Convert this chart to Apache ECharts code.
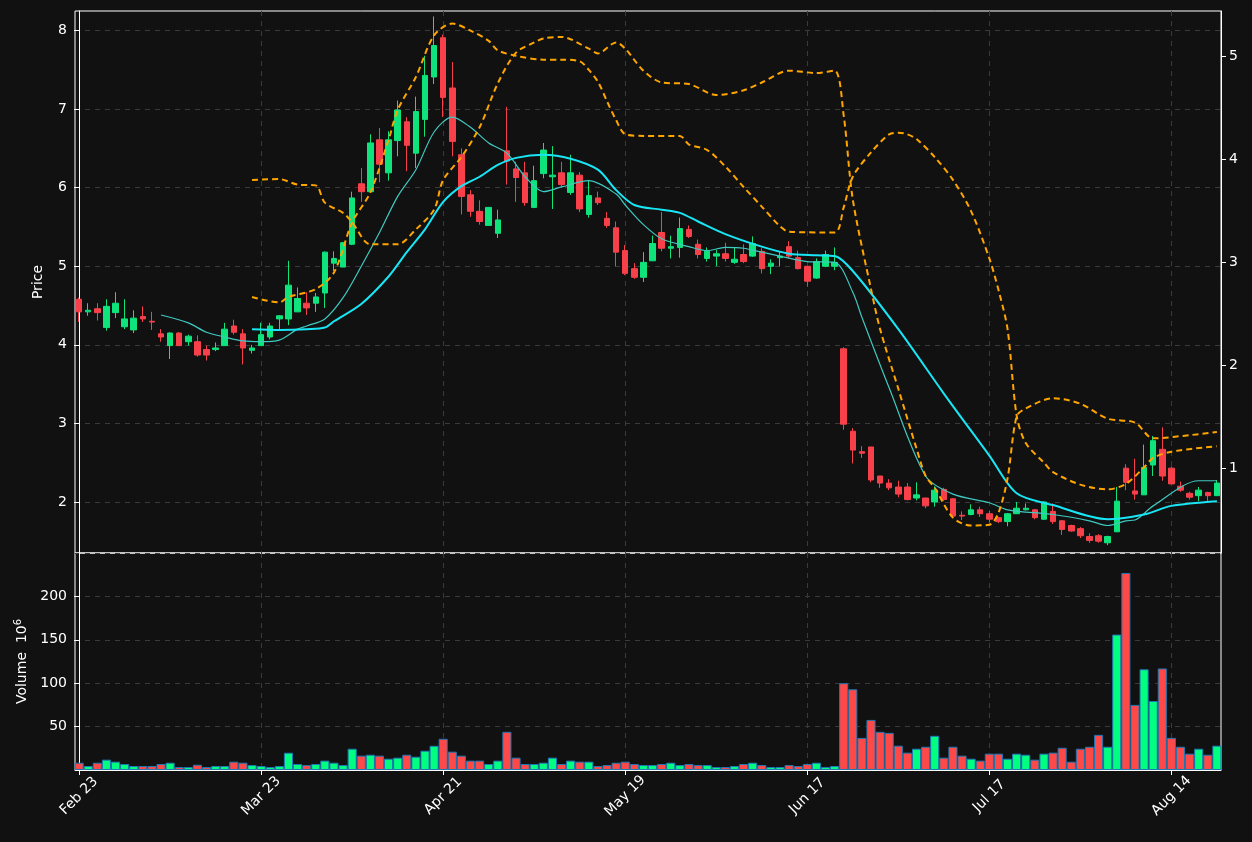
<!DOCTYPE html>
<html><head><meta charset="utf-8">
<script src="https://cdn.jsdelivr.net/npm/echarts@6/dist/echarts.min.js"></script>
<style>html,body{margin:0;background:#111111;}#c{width:1252px;height:842px;}</style>
</head><body><div id="c"></div>
<script>
const tickLabels = ['Feb 23','Mar 23','Apr 21','May 19','Jun 17','Jul 17','Aug 14'];
const tickStep = 20;
const openP = [4.58,4.42,4.46,4.22,4.41,4.23,4.19,4.36,4.30,4.14,3.99,4.15,4.04,4.04,3.94,3.94,3.99,4.24,4.14,3.93,3.99,4.10,4.33,4.33,4.42,4.53,4.53,4.66,5.04,4.99,5.28,6.05,5.95,6.61,6.19,6.60,6.84,6.44,6.87,7.41,7.91,7.27,6.42,5.91,5.70,5.52,5.42,6.47,6.24,6.19,5.75,6.18,6.14,6.19,5.94,6.16,5.66,5.87,5.61,5.49,5.20,4.97,4.86,5.07,5.43,5.23,5.24,5.47,5.28,5.10,5.13,5.16,5.05,5.15,5.13,5.19,5.00,5.11,5.25,5.11,5.00,4.85,5.00,5.00,3.95,2.90,2.64,2.70,2.33,2.24,2.19,2.19,2.05,2.05,2.00,2.16,2.04,1.83,1.84,1.90,1.85,1.80,1.75,1.85,1.90,1.90,1.78,1.88,1.76,1.70,1.66,1.56,1.57,1.48,1.62,2.43,2.14,2.09,2.47,2.67,2.43,2.20,2.11,2.08,2.12,2.08];
const closeP = [4.42,4.44,4.41,4.49,4.53,4.33,4.34,4.33,4.29,4.10,4.15,3.99,4.11,3.87,3.87,3.96,4.20,4.16,3.96,3.96,4.13,4.24,4.37,4.76,4.59,4.47,4.61,5.18,5.10,5.30,5.87,5.95,6.57,6.30,6.61,6.99,6.54,6.97,7.43,7.81,7.15,6.59,5.89,5.70,5.57,5.75,5.59,6.34,6.13,5.81,6.09,6.48,6.16,6.04,6.19,5.73,5.90,5.81,5.52,5.18,4.91,4.86,5.05,5.29,5.23,5.25,5.48,5.38,5.15,5.19,5.16,5.10,5.09,5.06,5.29,4.97,5.04,5.13,5.13,4.97,4.81,5.06,5.15,5.05,2.99,2.66,2.62,2.28,2.24,2.18,2.10,2.03,2.09,1.95,2.15,2.03,1.82,1.82,1.90,1.85,1.78,1.75,1.85,1.92,1.92,1.80,2.00,1.75,1.65,1.63,1.57,1.51,1.50,1.56,2.01,2.25,2.10,2.44,2.78,2.33,2.23,2.15,2.06,2.15,2.08,2.24];
const lowP = [4.29,4.37,4.31,4.18,4.34,4.20,4.15,4.29,4.19,4.04,3.82,3.99,3.99,3.85,3.80,3.92,3.99,4.13,3.75,3.89,3.99,4.07,4.20,4.25,4.42,4.38,4.42,4.47,4.94,4.99,5.27,5.82,5.95,6.07,6.09,6.40,6.21,6.25,6.65,7.32,6.90,6.40,5.66,5.63,5.53,5.52,5.36,6.04,5.82,5.77,5.74,6.12,5.73,6.00,5.91,5.69,5.62,5.78,5.49,5.00,4.89,4.84,4.80,5.07,5.19,5.10,5.11,5.36,5.10,5.06,5.00,5.06,5.03,5.04,5.12,4.91,4.90,5.00,5.10,4.96,4.74,4.84,4.99,4.95,2.92,2.49,2.56,2.25,2.18,2.15,2.06,2.02,2.02,1.92,1.94,2.01,1.81,1.77,1.83,1.81,1.74,1.73,1.69,1.85,1.89,1.78,1.77,1.72,1.58,1.62,1.54,1.48,1.48,1.45,1.62,2.15,2.03,2.09,2.33,2.27,2.23,2.13,2.03,2.01,2.01,2.08];
const highP = [4.60,4.53,4.53,4.58,4.67,4.58,4.44,4.49,4.42,4.20,4.16,4.16,4.13,4.12,3.99,4.03,4.28,4.32,4.20,4.00,4.28,4.28,4.38,5.07,4.73,4.67,4.66,5.19,5.19,5.31,5.95,6.25,6.68,6.76,6.72,7.11,6.90,7.16,7.68,8.18,7.95,7.60,6.50,5.97,5.84,5.75,5.72,7.03,6.33,6.33,6.28,6.57,6.53,6.33,6.42,6.20,6.10,5.95,5.69,5.57,5.27,5.04,5.18,5.39,5.69,5.39,5.62,5.52,5.34,5.24,5.21,5.30,5.24,5.28,5.38,5.23,5.09,5.19,5.32,5.20,5.00,5.10,5.20,5.24,3.97,2.94,2.71,2.70,2.33,2.29,2.27,2.24,2.25,2.05,2.20,2.18,2.05,1.88,1.97,1.94,1.89,1.81,1.86,2.00,1.98,1.91,2.01,1.98,1.77,1.71,1.68,1.60,1.59,1.57,2.19,2.48,2.55,2.73,2.84,2.95,2.45,2.26,2.13,2.19,2.13,2.28];
const volume = [8.4,4.6,8.4,11.9,9.6,6.9,4.6,4.6,4.6,6.9,8.4,3.4,3.4,6.1,3.4,4.6,4.6,9.6,8.4,5.7,4.6,3.4,4.6,19.9,6.9,5.7,6.9,10.8,8.4,5.7,24.5,16.5,17.6,16.5,13.0,14.2,17.6,15.3,22.2,27.9,36,21.1,16.5,10.8,10.8,6.9,10.8,44,14.2,6.9,6.9,8.4,14.2,6.9,10.8,9.6,9.6,4.6,5.7,8.4,9.6,6.9,5.7,5.7,6.9,8.4,5.7,6.9,5.7,5.7,3.4,3.4,4.6,6.9,8.4,5.7,3.4,3.4,5.7,4.6,6.9,8.4,3.4,4.6,100,93,37,57.7,44,42.8,28,20,24.5,26.8,39.4,14.2,26.8,16.5,13,10.8,18.8,18.8,13,18.8,17.6,11.9,18.8,20,25.6,9.6,24.5,26.8,40.5,26.8,156,227,75,116,79.5,117,37,26.8,18.8,24.5,17.6,28];
const maShort = [[9,4.38],[12,4.28],[14,4.16],[16,4.10],[18,4.05],[20,4.04],[22,4.06],[24,4.2],[25,4.24],[27,4.33],[29,4.60],[31,5.0],[33,5.43],[35,5.89],[37,6.23],[39,6.71],[41,6.90],[43,6.77],[45,6.57],[47,6.44],[49,6.14],[51,5.95],[53,6.01],[56,6.09],[59,5.92],[60,5.78],[62,5.53],[64,5.35],[67,5.25],[69,5.20],[71,5.24],[73,5.23],[75,5.18],[77,5.13],[80,5.06],[83,5.05],[85,4.67],[86,4.35],[89,3.45],[93,2.33],[96,2.10],[100,1.99],[102,1.90],[107,1.84],[111,1.76],[113,1.70],[115,1.76],[116,1.77],[118,1.95],[123,2.27],[125,2.27]];
const maLong = [[19,4.20],[22,4.19],[25,4.20],[27,4.22],[28,4.30],[31,4.52],[34,4.87],[36,5.18],[38,5.47],[40,5.82],[42,6.02],[44,6.14],[46,6.29],[48,6.38],[51,6.42],[54,6.37],[57,6.23],[59,5.97],[61,5.78],[64,5.72],[66,5.68],[68,5.57],[71,5.41],[75,5.25],[78,5.16],[81,5.14],[83,5.13],[85,4.94],[90,4.20],[95,3.38],[100,2.59],[103,2.11],[107,1.96],[113,1.78],[117,1.84],[120,1.95],[125,2.01]];
const bandA = [[19,6.10],[22,6.11],[24,6.04],[26,6.03],[27,5.81],[29,5.68],[30,5.56],[32,5.28],[35,5.28],[37,5.47],[39,5.72],[40,6.10],[42,6.39],[44,6.77],[46,7.33],[48,7.72],[50,7.85],[51,7.90],[53,7.92],[56,7.77],[57,7.71],[59,7.85],[60,7.77],[62,7.49],[64,7.34],[67,7.32],[70,7.18],[73,7.24],[75,7.34],[78,7.49],[81,7.46],[83,7.49],[84,6.92],[85,5.85],[87,4.71],[88,4.20],[90,3.44],[92,2.68],[93,2.33],[94,2.18],[96,1.80],[98,1.70],[100,1.71],[101,1.86],[102,2.30],[103,3.09],[104,3.19],[107,3.32],[110,3.25],[113,3.06],[116,3.01],[118,2.81],[122,2.85],[125,2.89]];
const bandB = [[19,4.61],[22,4.54],[23,4.61],[26,4.71],[28,4.92],[30,5.56],[32,5.94],[34,6.61],[35,6.99],[37,7.41],[39,7.94],[41,8.09],[43,8.0],[45,7.87],[46,7.75],[48,7.68],[51,7.63],[53,7.63],[55,7.61],[56,7.5],[57,7.35],[58,7.1],[59,6.86],[60,6.68],[62,6.66],[66,6.66],[67,6.55],[69,6.48],[71,6.27],[73,6.01],[75,5.76],[77,5.51],[78,5.44],[83,5.43],[84,5.75],[85,6.14],[87,6.45],[89,6.68],[90,6.70],[91,6.68],[92,6.62],[94,6.39],[96,6.10],[98,5.70],[100,5.10],[101,4.70],[102,4.20],[103,3.10],[104,2.75],[106,2.50],[107,2.38],[110,2.22],[113,2.16],[115,2.23],[117,2.44],[118,2.56],[120,2.64],[125,2.71]];

const UP='#0fe37c', DOWN='#f7404a', VUP='#00ff80', VDOWN='#ff4848';
const tickPos = tickLabels.map((_, k) => k * tickStep);
const candle = openP.map((o, i) => [i, o, closeP[i], lowP[i], highP[i]]);
const volData = volume.map((v, i) => ({value: [i, v], itemStyle: {color: closeP[i] >= openP[i] ? VUP : VDOWN}}));
const font = 'DejaVu Sans';
const grid2 = {color:'#3a3a3a', type:[5,5], width:1};
const xMin = -0.45, xMax = openP.length - 0.55;
const chart = echarts.init(document.getElementById('c'));
chart.setOption({
  backgroundColor:'#111111', animation:false,
  textStyle:{fontFamily:font},
  grid:[
    {left:75, right:31, top:11, height:542, show:true, borderColor:'#ffffff', borderWidth:1},
    {left:75, right:31, top:553, height:217, show:true, borderColor:'#ffffff', borderWidth:1}
  ],
  xAxis:[
    {type:'value', gridIndex:0, min:xMin, max:xMax,
     axisLine:{show:false}, axisTick:{show:false, customValues:tickPos}, axisLabel:{show:false, customValues:tickPos},
     splitLine:{show:true, lineStyle:grid2}},
    {type:'value', gridIndex:1, min:xMin, max:xMax,
     axisLine:{show:true, onZero:false, lineStyle:{color:'#ffffff'}},
     axisTick:{show:true, customValues:tickPos, length:5, lineStyle:{color:'#ffffff'}},
     axisLabel:{show:true, customValues:tickPos, rotate:45, color:'#ffffff', fontSize:14, fontFamily:font, margin:26,
       align:'center', verticalAlign:'middle',
       formatter:(v)=>tickLabels[Math.round(v/tickStep)]||''},
     splitLine:{show:true, lineStyle:grid2}}
  ],
  yAxis:[
    {type:'value', gridIndex:0, min:1.35, max:8.25, position:'left',
     name:'Price', nameLocation:'middle', nameGap:30, nameTextStyle:{color:'#ffffff', fontSize:14, fontFamily:font},
     axisLine:{show:true, lineStyle:{color:'#ffffff'}},
     axisTick:{show:true, customValues:[2,3,4,5,6,7,8], length:5, lineStyle:{color:'#ffffff'}},
     axisLabel:{customValues:[2,3,4,5,6,7,8], color:'#ffffff', fontSize:14, fontFamily:font},
     splitLine:{show:true, lineStyle:grid2}},
    {type:'value', gridIndex:0, min:0.18, max:5.44, position:'right',
     axisLine:{show:true, lineStyle:{color:'#ffffff'}},
     axisTick:{show:true, customValues:[1,2,3,4,5], length:5, lineStyle:{color:'#ffffff'}},
     axisLabel:{customValues:[1,2,3,4,5], color:'#ffffff', fontSize:14, fontFamily:font},
     splitLine:{show:false}},
    {type:'value', gridIndex:1, min:0, max:250, interval:50, position:'left',
     name:'Volume  10{s|6}', nameLocation:'middle', nameGap:42,
     nameTextStyle:{color:'#ffffff', fontSize:14, fontFamily:font, rich:{s:{fontSize:10, verticalAlign:'top', color:'#ffffff', padding:[0,0,8,0]}}},
     axisLine:{show:true, lineStyle:{color:'#ffffff'}},
     axisTick:{show:true, length:5, lineStyle:{color:'#ffffff'}},
     axisLabel:{color:'#ffffff', fontSize:14, fontFamily:font, showMinLabel:false, showMaxLabel:false},
     splitLine:{show:true, lineStyle:grid2}}
  ],
  series:[
    {type:'candlestick', xAxisIndex:0, yAxisIndex:0, data:candle, barWidth:6,
     encode:{x:0, y:[1,2,3,4]},
     itemStyle:{color:UP, color0:DOWN, borderColor:UP, borderColor0:DOWN, borderWidth:1}},
    {type:'line', xAxisIndex:0, yAxisIndex:0, data:maShort, showSymbol:false, smooth:0.3,
     lineStyle:{color:'#3fc9c0', width:1.2}},
    {type:'line', xAxisIndex:0, yAxisIndex:0, data:maLong, showSymbol:false, smooth:0.3,
     lineStyle:{color:'#19e6f5', width:2}},
    {type:'line', xAxisIndex:0, yAxisIndex:0, data:bandA, showSymbol:false, smooth:0.3,
     lineStyle:{color:'#ffa500', width:2, type:[6,4]}},
    {type:'line', xAxisIndex:0, yAxisIndex:0, data:bandB, showSymbol:false, smooth:0.3,
     lineStyle:{color:'#ffa500', width:2, type:[6,4]}},
    {type:'bar', xAxisIndex:1, yAxisIndex:2, data:volData, barWidth:9.1,
     itemStyle:{borderColor:'#1f77b4', borderWidth:1}}
  ]
});
</script></body></html>
